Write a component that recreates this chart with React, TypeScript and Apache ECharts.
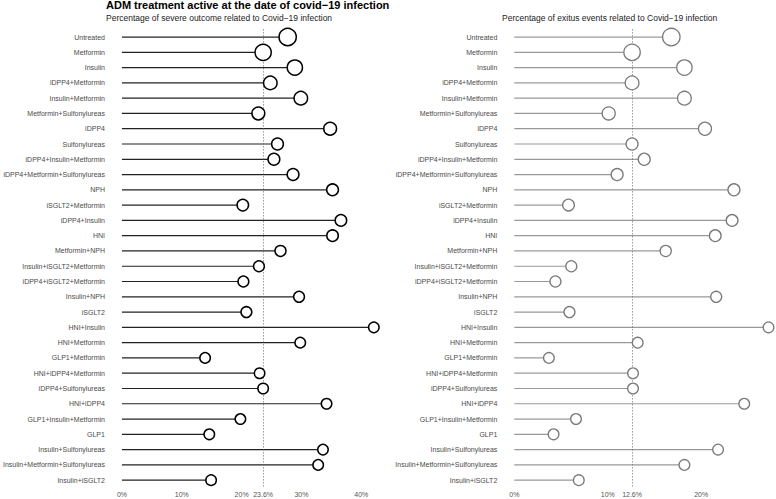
import React, { useEffect, useRef } from "react";
import * as echarts from "echarts";

const mainTitle = "ADM treatment active at the date of covid\u221219 infection";
const severeTitle = "Percentage of severe outcome related to Covid\u221219 infection";
const exitusTitle = "Percentage of exitus events related to Covid\u221219 infection";

const categories = [
  "Untreated",
  "Metformin",
  "Insulin",
  "iDPP4+Metformin",
  "Insulin+Metformin",
  "Metformin+Sulfonylureas",
  "iDPP4",
  "Sulfonylureas",
  "iDPP4+Insulin+Metformin",
  "iDPP4+Metformin+Sulfonylureas",
  "NPH",
  "iSGLT2+Metformin",
  "iDPP4+Insulin",
  "HNI",
  "Metformin+NPH",
  "Insulin+iSGLT2+Metformin",
  "iDPP4+iSGLT2+Metformin",
  "Insulin+NPH",
  "iSGLT2",
  "HNI+Insulin",
  "HNI+Metformin",
  "GLP1+Metformin",
  "HNI+iDPP4+Metformin",
  "iDPP4+Sulfonylureas",
  "HNI+iDPP4",
  "GLP1+Insulin+Metformin",
  "GLP1",
  "Insulin+Sulfonylureas",
  "Insulin+Metformin+Sulfonylureas",
  "Insulin+iSGLT2",
];

const severePct = [
  27.7, 23.6, 28.9, 24.8, 29.9, 22.8, 34.8, 26.0, 25.4, 28.6,
  35.2, 20.2, 36.6, 35.2, 26.5, 22.9, 20.3, 29.6, 20.8, 42.1,
  29.8, 13.9, 23.0, 23.6, 34.2, 19.8, 14.6, 33.6, 32.8, 14.9,
];

const exitusPct = [
  16.8, 12.6, 18.2, 12.6, 18.2, 10.1, 20.4, 12.6, 13.9, 11.0,
  23.5, 5.8, 23.3, 21.5, 16.2, 6.1, 4.4, 21.6, 5.9, 27.2,
  13.2, 3.7, 12.7, 12.7, 24.6, 6.6, 4.2, 21.8, 18.2, 6.9,
];

// relative group size (drives circle size)
const groupSize = [
  18.7, 17.7, 16.7, 15, 15, 14.3, 14.3, 13.3, 13.3, 13.3,
  13.3, 13, 13, 13, 12.5, 12.3, 12.3, 12.3, 12.3, 12,
  12, 12, 12, 12, 12, 12, 12, 12, 12, 12,
];

const severeMean = 23.6;
const exitusMean = 12.6;
const severeTicks = [0, 10, 20, 23.6, 30, 40];
const exitusTicks = [0, 10, 12.6, 20];

const FONT = "'Liberation Sans', Arial, Helvetica, sans-serif";

export default function App() {
  const ref = useRef<HTMLDivElement>(null);

  useEffect(() => {
    if (!ref.current) return;
    const chart = echarts.init(ref.current, null, { renderer: "svg" });

    const top = 29.4;
    const height = 458.4;

    const yAxisBase = (gridIndex: number) => ({
      type: "category" as const,
      gridIndex,
      data: categories,
      inverse: true,
      axisLine: { show: false },
      axisTick: { show: false },
      splitLine: { show: false },
      axisLabel: { fontSize: 7, color: "#4a4a4a", margin: 17, fontFamily: FONT },
    });

    const xAxisBase = (gridIndex: number, max: number, ticks: number[], mean: number) => ({
      type: "value" as const,
      gridIndex,
      min: 0,
      max,
      axisLine: { show: false },
      axisTick: { show: false },
      splitLine: { show: false },
      axisLabel: {
        customValues: ticks,
        fontSize: 7,
        margin: 3,
        fontFamily: FONT,
        color: (v: number) => (v === mean ? "#9a9a9a" : "#555"),
        formatter: (v: number) => `${v}%`,
      },
    });

    const panel = (
      idx: number,
      values: number[],
      mean: number,
      lineColor: string,
      circleColor: string,
      borderWidth: number
    ) => [
      {
        type: "bar",
        xAxisIndex: idx,
        yAxisIndex: idx,
        data: values,
        barWidth: 1.2,
        silent: true,
        itemStyle: { color: lineColor },
        z: 2,
      },
      {
        type: "scatter",
        xAxisIndex: idx,
        yAxisIndex: idx,
        data: values.map((v, i) => [v, categories[i]]),
        symbol: "circle",
        symbolSize: (_v: any, p: any) => groupSize[p.dataIndex] - borderWidth,
        itemStyle: { color: "#fff", borderColor: circleColor, borderWidth, opacity: 1 },
        silent: true,
        z: 4,
        markLine: {
          silent: true,
          symbol: "none",
          label: { show: false },
          lineStyle: { type: [1, 2], color: "#666", width: 1 },
          data: [{ xAxis: mean }],
          z: 3,
        },
      },
    ];

    chart.setOption({
      animation: false,
      textStyle: { fontFamily: FONT },
      grid: [
        { left: 119, width: 260.2, top, height },
        { left: 514.3, width: 262.4, top, height },
      ],
      xAxis: [
        xAxisBase(0, 43, severeTicks, severeMean),
        xAxisBase(1, 28, exitusTicks, exitusMean),
      ],
      yAxis: [yAxisBase(0), yAxisBase(1)],
      series: [
        ...panel(0, severePct, severeMean, "#222", "#000", 1.5),
        ...panel(1, exitusPct, exitusMean, "#999", "#7a7a7a", 1.3),
      ],
      graphic: [
        {
          type: "text",
          left: 106,
          top: -1,
          style: { text: mainTitle, fontSize: 11, fontWeight: "bold", fill: "#000", fontFamily: FONT },
        },
        {
          type: "text",
          left: 106,
          top: 13,
          style: { text: severeTitle, fontSize: 8.5, fill: "#222", fontFamily: FONT },
        },
        {
          type: "text",
          left: 502,
          top: 13,
          style: { text: exitusTitle, fontSize: 8.5, fill: "#222", fontFamily: FONT },
        },
      ],
    });

    return () => chart.dispose();
  }, []);

  return (
    <div
      ref={ref}
      style={{ position: "fixed", left: 0, top: 0, width: 776, height: 499, background: "#fff" }}
    />
  );
}
